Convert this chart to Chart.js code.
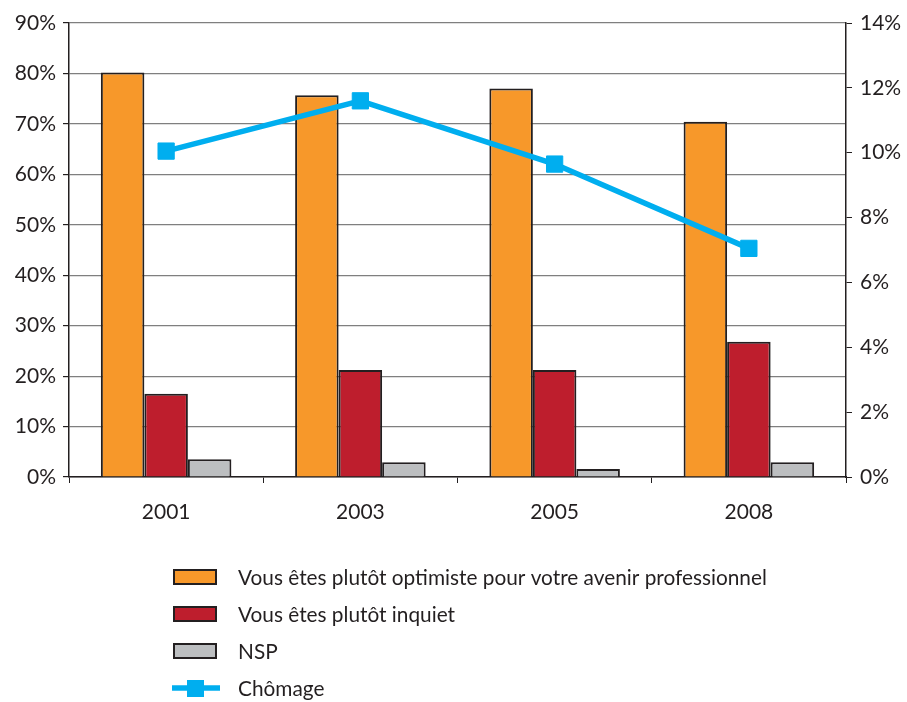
<!DOCTYPE html>
<html>
<head>
<meta charset="utf-8">
<script src="https://cdn.jsdelivr.net/npm/chart.js@4/dist/chart.umd.min.js"></script>
<style>
    html, body { margin: 0; padding: 0; background: #fff; }
    #wrap { width: 907px; height: 702px; position: relative; }
</style>
</head>
<body>
<div id="wrap"><canvas id="chart" width="907" height="702"></canvas></div>
<script>
const years = ['2001', '2003', '2005', '2008'];
const optimiste = [80.2, 75.7, 77.0, 70.4];
const inquiet = [16.5, 21.2, 21.2, 26.8];
const nsp = [3.5, 2.9, 1.6, 2.9];
const chomage = [10.05, 11.6, 9.65, 7.05];

const leftTicks = { min: 0, max: 90, step: 10 };
const rightTicks = { min: 0, max: 14, step: 2 };

const FONT = 'Lato, "DejaVu Sans", sans-serif';
const TEXT = '#231f20';

// legend drawn as a vertical list under the chart
const legendList = {
    id: 'legendList',
    afterDraw(chart) {
        const ctx = chart.ctx;
        const x0 = 174, textX = 238, y0 = 577, gap = 37;
        ctx.save();
        ctx.font = '20.8px ' + FONT;
        ctx.textBaseline = 'middle';
        ctx.fillStyle = TEXT;
        const order = [1, 2, 3, 0];
        order.forEach((idx, i) => {
            const ds = chart.data.datasets[idx];
            const y = y0 + i * gap;
            if (ds.type === 'line') {
                ctx.strokeStyle = ds.borderColor;
                ctx.lineWidth = 5.5;
                ctx.beginPath();
                ctx.moveTo(x0 - 2, y);
                ctx.lineTo(x0 + 46, y);
                ctx.stroke();
                ctx.fillStyle = ds.borderColor;
                ctx.fillRect(x0 + 13, y - 8, 17, 17);
            } else {
                ctx.fillStyle = ds.backgroundColor;
                ctx.fillRect(x0, y - 7, 42, 14);
                ctx.strokeStyle = ds.borderColor;
                ctx.lineWidth = 2;
                ctx.strokeRect(x0, y - 7, 42, 14);
            }
            ctx.fillStyle = TEXT;
            ctx.fillText(ds.label, textX, y + 1);
        });
        ctx.restore();
    }
};

new Chart(document.getElementById('chart'), {
    type: 'bar',
    data: {
        labels: years,
        datasets: [
            {
                type: 'line',
                label: 'Chômage',
                data: chomage,
                yAxisID: 'y2',
                borderColor: '#00aeef',
                backgroundColor: '#00aeef',
                borderWidth: 5.5,
                pointStyle: 'rect',
                pointRadius: 11.5,
                pointBorderWidth: 1,
                pointBackgroundColor: '#00aeef',
                pointBorderColor: '#00aeef',
                tension: 0,
                order: 0
            },
            {
                label: 'Vous êtes plutôt optimiste pour votre avenir professionnel',
                data: optimiste,
                backgroundColor: '#f7982a',
                borderColor: '#231f20',
                borderWidth: 2,
                order: 1
            },
            {
                label: 'Vous êtes plutôt inquiet',
                data: inquiet,
                backgroundColor: '#be1e2d',
                borderColor: '#231f20',
                borderWidth: 2,
                order: 1
            },
            {
                label: 'NSP',
                data: nsp,
                backgroundColor: '#bcbec0',
                borderColor: '#231f20',
                borderWidth: 2,
                order: 1
            }
        ]
    },
    options: {
        responsive: false,
        animation: false,
        layout: { padding: { top: 23, bottom: 157, left: 0, right: 0 } },
        datasets: {
            bar: { categoryPercentage: 0.672, barPercentage: 1 }
        },
        plugins: {
            legend: { display: false },
            tooltip: { enabled: false }
        },
        scales: {
            x: {
                grid: {
                    offset: true,
                    drawOnChartArea: false,
                    drawTicks: true,
                    tickLength: 6,
                    color: '#231f20'
                },
                border: { color: '#231f20', width: 1.5 },
                ticks: { color: TEXT, font: { family: FONT, size: 21 }, padding: 17 },
                afterFit(scale) { scale.height = 68; }
            },
            y: {
                position: 'left',
                min: leftTicks.min,
                max: leftTicks.max,
                grid: {
                    color: '#7f7f7f',
                    lineWidth: 1.2,
                    tickLength: 6,
                    tickColor: '#231f20'
                },
                border: { color: '#231f20', width: 1.5 },
                ticks: {
                    stepSize: leftTicks.step,
                    color: TEXT,
                    font: { family: FONT, size: 21 },
                    padding: 7,
                    callback: v => v + '%'
                },
                afterFit(scale) { scale.width = 69; }
            },
            y2: {
                position: 'right',
                min: rightTicks.min,
                max: rightTicks.max,
                grid: {
                    drawOnChartArea: false,
                    tickLength: 6,
                    tickColor: '#231f20'
                },
                border: { color: '#231f20', width: 1.5 },
                ticks: {
                    stepSize: rightTicks.step,
                    color: TEXT,
                    font: { family: FONT, size: 21 },
                    padding: 8,
                    callback: v => v + '%'
                },
                afterFit(scale) { scale.width = 61; }
            }
        }
    },
    plugins: [legendList]
});
</script>
</body>
</html>
